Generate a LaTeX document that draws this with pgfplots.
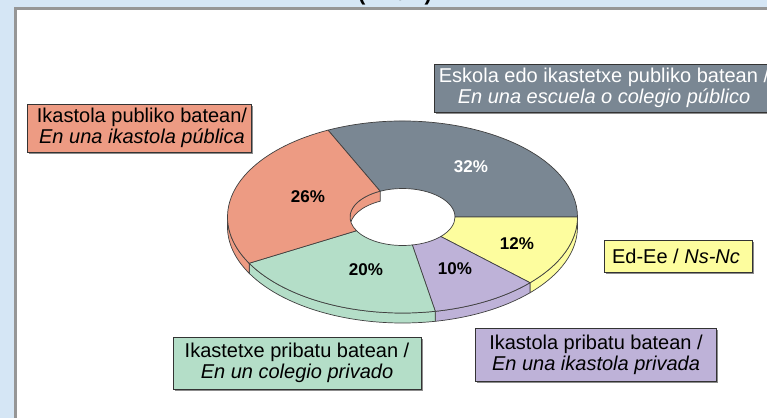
\documentclass[border=0pt]{standalone}
\usepackage{pgfplots}
\usepackage{pgfplotstable}
\pgfplotsset{compat=1.18}
\usepackage{fontspec}
\setmainfont{Liberation Sans}

\definecolor{cGray}{RGB}{122,135,147}
\definecolor{cYellow}{RGB}{253,253,158}
\definecolor{cPurple}{RGB}{190,178,216}
\definecolor{cGreen}{RGB}{180,222,200}
\definecolor{cPink}{RGB}{237,155,131}
\definecolor{cBack}{RGB}{213,230,245}
\definecolor{cFrame}{RGB}{150,150,150}

% share of each answer (%), clockwise from the top
\pgfplotstableread{
value color
32 cGray
12 cYellow
10 cPurple
20 cGreen
26 cPink
}\datatable

\newcommand\cx{402.5}
\newcommand\cy{201}
\newcommand\rx{175}
\newcommand\ry{96}
\newcommand\rix{52.5}
\newcommand\riy{28.5}
\newcommand\dd{10}

\gdef\cum{115.2}
\foreach \i in {0,...,4}{%
  \pgfplotstablegetelem{\i}{value}\of\datatable
  \pgfmathsetmacro\dV{\pgfplotsretval}%
  \pgfplotstablegetelem{\i}{color}\of\datatable
  \expandafter\xdef\csname col\i\endcsname{\pgfplotsretval}%
  \pgfmathsetmacro\dS{\cum}%
  \pgfmathsetmacro\dE{\cum-3.6*\dV}%
  \xdef\cum{\dE}%
  \expandafter\xdef\csname sa\i\endcsname{\dS}%
  \expandafter\xdef\csname ea\i\endcsname{\dE}%
  \pgfmathsetmacro\dFS{min(\dS,0)}%
  \pgfmathsetmacro\dFE{max(\dE,-180)}%
  \pgfmathtruncatemacro\dFF{(\dFS>\dFE) ? 1 : 0}%
  \expandafter\xdef\csname fs\i\endcsname{\dFS}%
  \expandafter\xdef\csname fe\i\endcsname{\dFE}%
  \expandafter\xdef\csname ff\i\endcsname{\dFF}%
  \pgfmathsetmacro\dNS{(\dE<0) ? \dS+360 : \dS}%
  \pgfmathsetmacro\dNE{(\dE<0) ? \dE+360 : \dE}%
  \pgfmathsetmacro\dBS{min(\dNS,180)}%
  \pgfmathsetmacro\dBE{max(\dNE,0)}%
  \pgfmathtruncatemacro\dBF{(\dBS>\dBE) ? 1 : 0}%
  \expandafter\xdef\csname bs\i\endcsname{\dBS}%
  \expandafter\xdef\csname be\i\endcsname{\dBE}%
  \expandafter\xdef\csname bf\i\endcsname{\dBF}%
}
\newcommand\COL[1]{\csname col#1\endcsname}
\newcommand\SA[1]{\csname sa#1\endcsname}
\newcommand\EA[1]{\csname ea#1\endcsname}
\newcommand\FS[1]{\csname fs#1\endcsname}
\newcommand\FE[1]{\csname fe#1\endcsname}
\newcommand\BS[1]{\csname bs#1\endcsname}
\newcommand\BE[1]{\csname be#1\endcsname}

\newcommand\lbl{\fontsize{20}{20.5}\selectfont}
\newcommand\pct{\fontsize{17}{17}\selectfont\bfseries}

\begin{document}
\begin{tikzpicture}
\begin{axis}[x=1pt, y=1pt, xmin=0, xmax=767, ymin=0, ymax=418,
  hide axis, scale only axis, clip=true]
  % background and frame
  \fill[cBack] (axis cs:0,0) rectangle (axis cs:767,418);
  \fill[cFrame] (axis cs:14,0) rectangle (axis cs:767,410.5);
  \fill[white] (axis cs:17,0) rectangle (axis cs:767,407.5);
  \node[overlay, font=\fontsize{22}{22}\selectfont\bfseries, anchor=base]
     at (axis cs:395,417) {(\hspace{0.9em}\%\hspace{0.9em})};

  % outer front side walls
  \pgfplotsinvokeforeach{0,...,4}{%
    \ifnum\csname ff#1\endcsname=1\relax
    \filldraw[fill=\COL{#1}, draw=black!75, line width=0.7pt]
      (axis cs:{\cx+\rx*cos(\FS{#1})},{\cy+\ry*sin(\FS{#1})})
      arc[start angle=\FS{#1}, end angle=\FE{#1}, x radius=\rx pt, y radius=\ry pt]
      -- ++(0pt,-\dd pt)
      arc[start angle=\FE{#1}, end angle=\FS{#1}, x radius=\rx pt, y radius=\ry pt]
      -- cycle;
    \fi
  }
  % hole and inner back wall
  \fill[white] (axis cs:\cx,\cy) ellipse[x radius=\rix pt, y radius=\riy pt];
  \begin{scope}
    \clip (axis cs:\cx,\cy) ellipse[x radius=\rix pt, y radius=\riy pt];
    \pgfplotsinvokeforeach{0,...,4}{%
      \ifnum\csname bf#1\endcsname=1\relax
      \filldraw[fill=\COL{#1}, draw=black!75, line width=0.7pt]
        (axis cs:{\cx+\rix*cos(\BS{#1})},{\cy+\riy*sin(\BS{#1})})
        arc[start angle=\BS{#1}, end angle=\BE{#1}, x radius=\rix pt, y radius=\riy pt]
        -- ++(0pt,-\dd pt)
        arc[start angle=\BE{#1}, end angle=\BS{#1}, x radius=\rix pt, y radius=\riy pt]
        -- cycle;
      \fi
    }
  \end{scope}
  % top faces
  \pgfplotsinvokeforeach{0,...,4}{%
    \filldraw[fill=\COL{#1}, draw=black!75, line width=0.7pt]
      (axis cs:{\cx+\rx*cos(\SA{#1})},{\cy+\ry*sin(\SA{#1})})
      arc[start angle=\SA{#1}, end angle=\EA{#1}, x radius=\rx pt, y radius=\ry pt]
      -- (axis cs:{\cx+\rix*cos(\EA{#1})},{\cy+\riy*sin(\EA{#1})})
      arc[start angle=\EA{#1}, end angle=\SA{#1}, x radius=\rix pt, y radius=\riy pt]
      -- cycle;
  }
  % percentages
  \node[font=\pct, text=white] at (axis cs:471,251) {32\%};
  \node[font=\pct] at (axis cs:308,221) {26\%};
  \node[font=\pct] at (axis cs:517,174) {12\%};
  \node[font=\pct] at (axis cs:366,148) {20\%};
  \node[font=\pct] at (axis cs:455,149) {10\%};

  % label boxes
  % pink
  \fill[black!45] (axis cs:29,264) rectangle (axis cs:253,312);
  \filldraw[fill=cPink, draw=black!80, line width=0.9pt] (axis cs:27,266) rectangle (axis cs:251,314);
  \node[font=\lbl, align=center] at (axis cs:142,290) {Ikastola publiko batean/\\\textit{En una ikastola pública}};
  % gray
  \fill[overlay, black!45] (axis cs:436,304) rectangle (axis cs:776,352);
  \filldraw[overlay, fill=cGray, draw=black!80, line width=0.9pt] (axis cs:434,306) rectangle (axis cs:774,354);
  \node[overlay, font=\lbl, align=center, text=white] at (axis cs:604,330) {Eskola edo ikastetxe publiko batean /\\\textit{En una escuela o colegio público}};
  % yellow
  \fill[black!45] (axis cs:606,144) rectangle (axis cs:754,176);
  \filldraw[fill=cYellow, draw=black!80, line width=0.9pt] (axis cs:604,146) rectangle (axis cs:752,178);
  \node[font=\lbl] at (axis cs:676,162) {Ed-Ee / \textit{Ns-Nc}};
  % green
  \fill[black!45] (axis cs:175,27) rectangle (axis cs:423,79);
  \filldraw[fill=cGreen, draw=black!80, line width=0.9pt] (axis cs:173,29) rectangle (axis cs:421,81);
  \node[font=\lbl, align=center] at (axis cs:297,55) {Ikastetxe pribatu batean /\\\textit{En un colegio privado}};
  % purple
  \fill[black!45] (axis cs:477,35) rectangle (axis cs:718,88);
  \filldraw[fill=cPurple, draw=black!80, line width=0.9pt] (axis cs:475,37) rectangle (axis cs:716,90);
  \node[font=\lbl, align=center] at (axis cs:596,63) {Ikastola pribatu batean /\\\textit{En una ikastola privada}};
\end{axis}
\pgfresetboundingbox
\path (current axis.south west) rectangle (current axis.north east);
\end{tikzpicture}
\end{document}
